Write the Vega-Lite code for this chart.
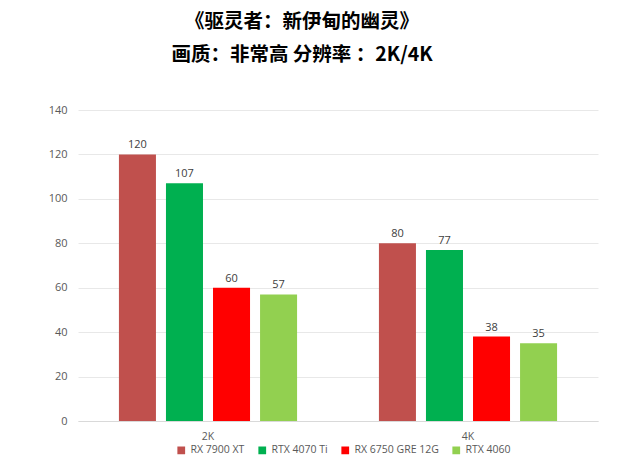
{
  "$schema": "https://vega.github.io/schema/vega-lite/v6.json",
  "autosize": {"type": "none"},
  "width": 520,
  "height": 311,
  "padding": {"left": 78, "top": 110, "right": 42, "bottom": 43},
  "background": "white",
  "title": {
    "text": ["《驱灵者：新伊甸的幽灵》", "画质：非常高  分辨率 ：2K/4K"],
    "anchor": "middle",
    "frame": "group",
    "dx": -36,
    "offset": 39,
    "font": "Noto Sans CJK SC",
    "fontSize": 19.5,
    "fontWeight": "bold",
    "color": "#000000",
    "lineHeight": 33
  },
  "data": {
    "values": [
      {"res": "2K", "gpu": "RX 7900 XT", "fps": 120},
      {"res": "2K", "gpu": "RTX 4070 Ti", "fps": 107},
      {"res": "2K", "gpu": "RX 6750 GRE 12G", "fps": 60},
      {"res": "2K", "gpu": "RTX 4060", "fps": 57},
      {"res": "4K", "gpu": "RX 7900 XT", "fps": 80},
      {"res": "4K", "gpu": "RTX 4070 Ti", "fps": 77},
      {"res": "4K", "gpu": "RX 6750 GRE 12G", "fps": 38},
      {"res": "4K", "gpu": "RTX 4060", "fps": 35}
    ]
  },
  "encoding": {
    "x": {
      "field": "res", "type": "nominal",
      "scale": {"paddingInner": 0, "paddingOuter": 0},
      "axis": {"title": null, "labelAngle": 0, "ticks": false, "domainColor": "#d9d9d9", "labelColor": "#595959", "labelFont": "Open Sans", "labelFontSize": 10.5, "labelPadding": 10}
    },
    "xOffset": {
      "field": "gpu", "type": "nominal",
      "sort": ["RX 7900 XT", "RTX 4070 Ti", "RX 6750 GRE 12G", "RTX 4060"],
      "scale": {"paddingInner": 0.213, "paddingOuter": 0.87}
    },
    "y": {
      "field": "fps", "type": "quantitative",
      "scale": {"domain": [0, 140]},
      "axis": {"title": null, "values": [0, 20, 40, 60, 80, 100, 120, 140], "domain": false, "ticks": false, "gridColor": "#e8e8e8", "labelColor": "#595959", "labelFont": "Open Sans", "labelFontSize": 11, "labelPadding": 11}
    }
  },
  "layer": [
    {
      "mark": {"type": "bar"},
      "encoding": {
        "color": {
          "field": "gpu", "type": "nominal",
          "sort": ["RX 7900 XT", "RTX 4070 Ti", "RX 6750 GRE 12G", "RTX 4060"],
          "scale": {"domain": ["RX 7900 XT", "RTX 4070 Ti", "RX 6750 GRE 12G", "RTX 4060"], "range": ["#C0504D", "#00B050", "#FF0000", "#92D050"]},
          "legend": {
            "title": null, "orient": "none", "direction": "horizontal",
            "legendX": 98, "legendY": 335,
            "symbolType": "square", "symbolSize": 60, "symbolStrokeWidth": 0,
            "labelColor": "#595959", "labelFont": "Open Sans", "labelFontSize": 10.5,
            "labelOffset": 4, "columnPadding": 12
          }
        }
      }
    },
    {
      "mark": {"type": "text", "dy": -9, "font": "Open Sans", "fontSize": 11, "color": "#404040"},
      "encoding": {"text": {"field": "fps", "type": "quantitative"}}
    }
  ],
  "config": {"view": {"stroke": null}}
}
